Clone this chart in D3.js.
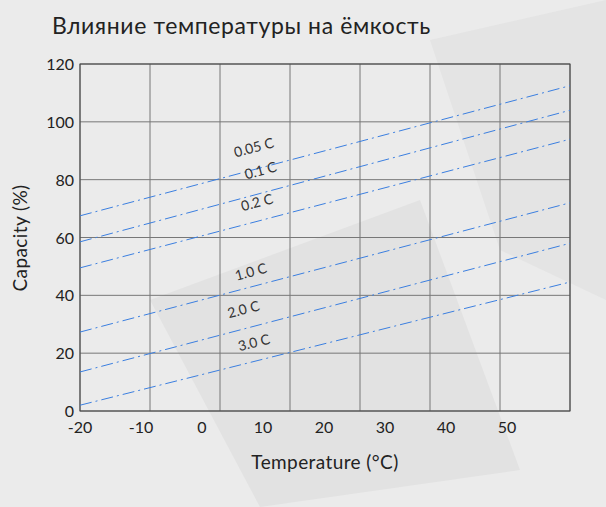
<!DOCTYPE html><html><head><meta charset="utf-8"><script src="https://cdn.jsdelivr.net/npm/d3@7"></script>
<style>body{margin:0;background:#ebebeb}</style></head><body><svg id="c" width="606" height="507"></svg>
<script>
const title="Влияние температуры на ёмкость";
const xTicks=[-20,-10,0,10,20,30,40,50];
const yTicks=[0,20,40,60,80,100,120];
const seriesNames=["0.05 C","0.1 C","0.2 C","1.0 C","2.0 C","3.0 C"];
const startVals=[67.5,58.5,49.5,27.3,13.5,2];
const endVals=[112.5,104,94,72,58,44.6];
const labelAt=[[8.6,89.5],[9.7,81.5],[9.1,70.5],[8.1,46.5],[6.9,33.5],[8.6,22]];
const svg=d3.select("#c"),L=80,R=570,T=64,B=411;
svg.append("rect").attr("width",606).attr("height",507).attr("fill","#ebebeb");
svg.append("path").attr("d","M150,300 L420,200 L520,470 L260,507 Z").attr("fill","#e2e2e2");
svg.append("path").attr("d","M430,40 L606,0 L606,300 L500,250 Z").attr("fill","#e4e4e4");
const x=d3.scaleLinear().domain([-20,60]).range([L,R]);
const xl=d3.scaleLinear().domain([-20,50]).range([80,507]);
const y=d3.scaleLinear().domain([0,120]).range([B,T]);
svg.append("text").attr("x",52).attr("y",34).text(title).attr("font-family","Lato").attr("font-size",23).attr("letter-spacing",0.6).attr("fill","#222");
const g=svg.append("g");
d3.range(8).forEach(i=>{const xx=L+i*(R-L)/7;g.append("line").attr("x1",xx).attr("x2",xx).attr("y1",T).attr("y2",B).attr("stroke","#777");});
yTicks.forEach(v=>g.append("line").attr("x1",L).attr("x2",R).attr("y1",y(v)).attr("y2",y(v)).attr("stroke","#777"));
g.append("rect").attr("x",L).attr("y",T).attr("width",R-L).attr("height",B-T).attr("fill","none").attr("stroke","#444");
const f="Lato";
xTicks.forEach(v=>svg.append("text").attr("x",xl(v)).attr("y",433).attr("text-anchor","middle").attr("font-family",f).attr("font-size",16).attr("fill","#222").text(v));
yTicks.forEach(v=>svg.append("text").attr("x",74).attr("y",y(v)+6).attr("text-anchor","end").attr("font-family",f).attr("font-size",16).attr("fill","#222").text(v));
svg.append("text").attr("x",325).attr("y",469).attr("text-anchor","middle").attr("font-family",f).attr("font-size",19).attr("letter-spacing",0.4).attr("fill","#222").text("Temperature (°C)");
svg.append("text").attr("transform","translate(27,238) rotate(-90)").attr("text-anchor","middle").attr("font-family",f).attr("font-size",19).attr("letter-spacing",0.4).attr("fill","#222").text("Capacity (%)");
const line=d3.line().x(d=>x(d[0])).y(d=>y(d[1]));
seriesNames.forEach((n,i)=>{
 svg.append("path").attr("d",line([[-20,startVals[i]],[60,endVals[i]]])).attr("stroke","#3b7fe0").attr("stroke-width",1).attr("stroke-dasharray","12,4,2,4").attr("fill","none");
 const ang=Math.atan2(y(endVals[i])-y(startVals[i]),x(60)-x(-20))*180/Math.PI;
 const p=labelAt[i];
 svg.append("text").attr("transform",`translate(${x(p[0])},${y(p[1])}) rotate(${ang})`).attr("text-anchor","middle").attr("font-family",f).attr("font-size",14).attr("fill","#333").text(n);
});
</script></body></html>
